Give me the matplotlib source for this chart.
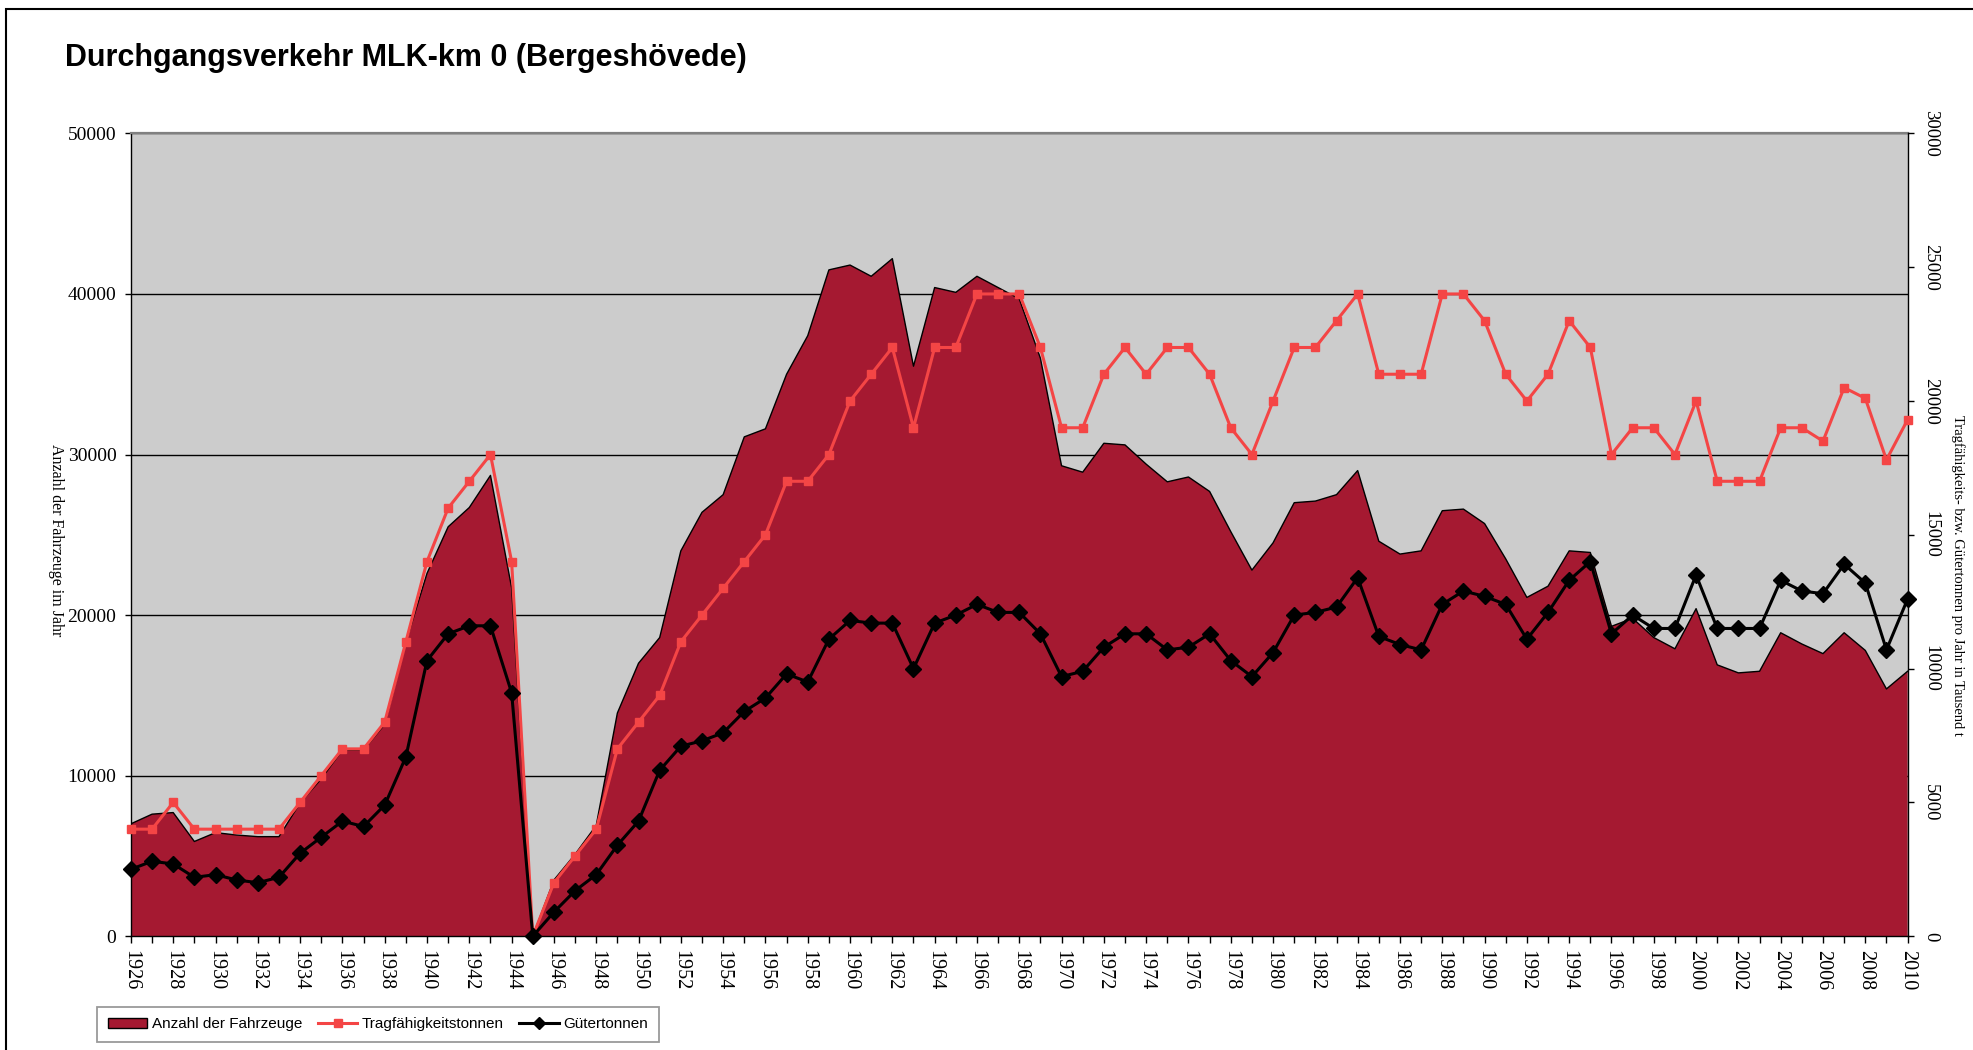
import matplotlib
matplotlib.use("Agg")
import matplotlib.pyplot as plt
from matplotlib.lines import Line2D
from matplotlib.patches import Patch, Rectangle

# ---------------- data ----------------
years = list(range(1926, 2011))

fahrzeuge = [
    7000, 7600, 7700, 5900, 6450, 6300, 6200, 6200, 8300, 9800,        # 1926-1935
    11600, 11600, 13200, 18300, 22600, 25500, 26700, 28700, 21700, 0,  # 1936-1945
    3500, 5100, 6900, 13900, 17000, 18600, 24000, 26400, 27500, 31100, # 1946-1955
    31600, 35000, 37400, 41500, 41800, 41100, 42200, 35500, 40400, 40100,  # 1956-1965
    41100, 40400, 39700, 36000, 29300, 28900, 30700, 30600, 29400, 28300,  # 1966-1975
    28600, 27700, 25200, 22800, 24500, 27000, 27100, 27500, 29000, 24600,  # 1976-1985
    23800, 24000, 26500, 26600, 25700, 23500, 21100, 21800, 24000, 23900,  # 1986-1995
    19300, 19800, 18600, 17900, 20400, 16900, 16400, 16500, 18900, 18200,  # 1996-2005
    17600, 18900, 17800, 15400, 16500,                                     # 2006-2010
]

tragfaehigkeit = [
    4000, 4000, 5000, 4000, 4000, 4000, 4000, 4000, 5000, 6000,
    7000, 7000, 8000, 11000, 14000, 16000, 17000, 18000, 14000, 0,
    2000, 3000, 4000, 7000, 8000, 9000, 11000, 12000, 13000, 14000,
    15000, 17000, 17000, 18000, 20000, 21000, 22000, 19000, 22000, 22000,
    24000, 24000, 24000, 22000, 19000, 19000, 21000, 22000, 21000, 22000,
    22000, 21000, 19000, 18000, 20000, 22000, 22000, 23000, 24000, 21000,
    21000, 21000, 24000, 24000, 23000, 21000, 20000, 21000, 23000, 22000,
    18000, 19000, 19000, 18000, 20000, 17000, 17000, 17000, 19000, 19000,
    18500, 20500, 20100, 17800, 19300,
]

gueter = [
    2500, 2800, 2700, 2200, 2300, 2100, 2000, 2200, 3100, 3700,
    4300, 4100, 4900, 6700, 10300, 11300, 11600, 11600, 9100, 0,
    900, 1700, 2300, 3400, 4300, 6200, 7100, 7300, 7600, 8400,
    8900, 9800, 9500, 11100, 11800, 11700, 11700, 10000, 11700, 12000,
    12400, 12100, 12100, 11300, 9700, 9900, 10800, 11300, 11300, 10700,
    10800, 11300, 10300, 9700, 10600, 12000, 12100, 12300, 13400, 11200,
    10900, 10700, 12400, 12900, 12700, 12400, 11100, 12100, 13300, 14000,
    11300, 12000, 11500, 11500, 13500, 11500, 11500, 11500, 13300, 12900,
    12800, 13900, 13200, 10700, 12600,
]

tick_years = list(range(1926, 2011, 2))
left_ticks = [0, 10000, 20000, 30000, 40000, 50000]
right_ticks = [0, 5000, 10000, 15000, 20000, 25000, 30000]

title = "Durchgangsverkehr MLK-km 0 (Bergeshövede)"
left_label = "Anzahl der Fahrzeuge im Jahr"
right_label = "Tragfähigkeits- bzw. Gütertonnen pro Jahr in Tausend t"
series_names = ["Anzahl der Fahrzeuge", "Tragfähigkeitstonnen", "Gütertonnen"]

# ---------------- style ----------------
AREA = "#A51931"
RED = "#F44545"
BG = "#CCCCCC"

plt.rcParams["font.family"] = ["Liberation Serif", "DejaVu Serif"]

W, H = 1973, 1050
fig = plt.figure(figsize=(W / 100, H / 100), dpi=100)


def fx(px):
    return px / W


def fy(py):
    return 1 - py / H


L, R, T, B = 130.9, 1907.6, 133.4, 936.2
ax = fig.add_axes([fx(L), fy(B), (R - L) / W, (B - T) / H])
ax.set_facecolor(BG)

ax.fill_between(years, 0, fahrzeuge, facecolor=AREA, edgecolor="none", zorder=2)
ax.plot(years, fahrzeuge, color="black", lw=1.0, zorder=3)

ax.set_xlim(1926, 2010)
ax.set_ylim(0, 50000)
ax.set_yticks(left_ticks)
ax.set_yticklabels([str(v) for v in left_ticks], fontsize=14)
ax.grid(axis="y", color="black", lw=1.0)
ax.set_axisbelow(True)

ax.set_xticks(tick_years)
ax.set_xticklabels([str(y) for y in tick_years], rotation=270, fontsize=14.5,
                   ha="center", va="top")
ax.set_xticks(years, minor=True)
ax.tick_params(axis="x", which="both", direction="out", length=5, width=1, pad=5,
               color="black")
ax.tick_params(axis="y", direction="out", length=4.5, width=1, pad=6)

for side in ["left", "bottom"]:
    ax.spines[side].set_color("black")
    ax.spines[side].set_linewidth(1.0)
ax.spines["top"].set_color("#808080")
ax.spines["top"].set_linewidth(1.6)
ax.spines["right"].set_visible(False)

ax2 = ax.twinx()
ax2.set_ylim(0, 30000)
ax2.set_yticks(right_ticks)
ax2.set_yticklabels([str(v) for v in right_ticks], rotation=270, fontsize=13.5,
                    va="center", ha="left")
ax2.tick_params(axis="y", direction="out", length=4.5, width=1, pad=6)
ax2.spines["right"].set_color("black")
ax2.spines["right"].set_linewidth(1.0)
ax2.spines["top"].set_visible(False)
ax2.spines["left"].set_visible(False)
ax2.spines["bottom"].set_visible(False)

ax2.plot(years, tragfaehigkeit, color=RED, lw=2.2, marker="s", ms=6,
         mfc=RED, mec=RED, zorder=3, clip_on=False)
ax2.plot(years, gueter, color="black", lw=2.2, marker="D", ms=8.5,
         mfc="black", mec="black", zorder=4, clip_on=False)

# ---------------- texts ----------------
fig.text(fx(65), fy(58), title, fontfamily=["Liberation Sans", "DejaVu Sans"],
         fontweight="bold", fontsize=22, ha="left", va="center")
fig.text(fx(56), fy(540), left_label, rotation=270, ha="center", va="center",
         fontsize=11.5)
fig.text(fx(1958), fy(575), right_label, rotation=270, ha="center", va="center",
         fontsize=10.5)

# ---------------- legend ----------------
handles = [
    Patch(facecolor=AREA, edgecolor="black", lw=1.0),
    Line2D([], [], color=RED, lw=2.2, marker="s", ms=6, mfc=RED, mec=RED),
    Line2D([], [], color="black", lw=2.2, marker="D", ms=6.5),
]
leg = fig.legend(handles, series_names, loc="lower left",
                 bbox_to_anchor=(fx(97), fy(1042)), ncol=3, numpoints=1,
                 frameon=True, fancybox=False, edgecolor="#808080",
                 prop={"family": ["Liberation Sans", "DejaVu Sans"], "size": 11},
                 handlelength=2.6, handletextpad=0.3, columnspacing=1.0,
                 borderpad=0.7, borderaxespad=0)
leg.get_frame().set_linewidth(1.3)

# outer chart border
fig.add_artist(Rectangle((fx(6), -0.1), 2.0, fy(9) + 0.1, transform=fig.transFigure,
                         fill=False, edgecolor="black", lw=1.5))

fig.savefig("out.png", dpi=100)
